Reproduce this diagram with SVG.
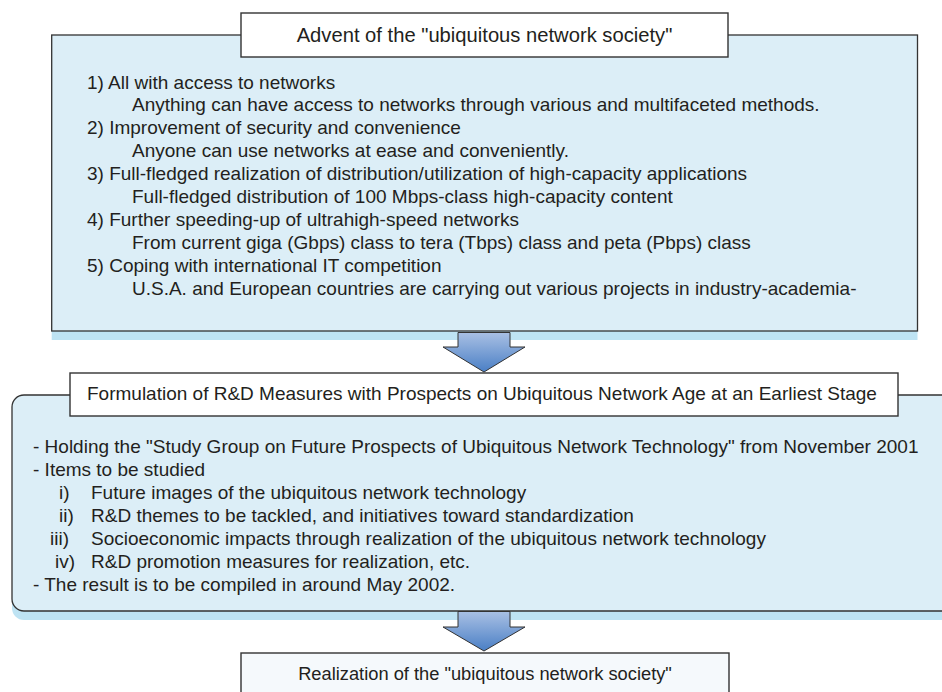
<svg xmlns="http://www.w3.org/2000/svg" width="942" height="692" viewBox="0 0 942 692">
<defs>
<linearGradient id="arrowGrad" x1="0" y1="0" x2="0" y2="1">
<stop offset="0" stop-color="#A9C0E4"/>
<stop offset="1" stop-color="#4A7FC5"/>
</linearGradient>
<style>
.panel{fill:#DCEEF7;stroke:#333;stroke-width:1.3}
.shadow{fill:#BEE3F3}
.title{fill:#fff;stroke:#333;stroke-width:1.4}
.final{fill:#F5F9FC;stroke:#333;stroke-width:1.4}
.arrow{fill:url(#arrowGrad);stroke:#333;stroke-width:1}
text{font-family:"Liberation Sans",Arial,sans-serif;font-size:19px;fill:#231F20}
.c{text-anchor:middle}
</style>
</defs>
<rect width="942" height="692" fill="#fff"/>

<g id="advent">
<rect class="shadow" x="51.7" y="44" width="865.8" height="296"/>
<rect class="panel" x="51.7" y="35" width="865.8" height="296"/>
<rect class="title" x="241" y="13" width="487" height="44"/>
<text class="c" x="484.5" y="41.7" style="font-size:20.2px">Advent of the "ubiquitous network society"</text>
<text x="87" y="88.5">1) All with access to networks</text>
<text x="132" y="111.4">Anything can have access to networks through various and multifaceted methods.</text>
<text x="87" y="134.3">2) Improvement of security and convenience</text>
<text x="132" y="157.2">Anyone can use networks at ease and conveniently.</text>
<text x="87" y="180.1">3) Full-fledged realization of distribution/utilization of high-capacity applications</text>
<text x="132" y="203">Full-fledged distribution of 100 Mbps-class high-capacity content</text>
<text x="87" y="225.9">4) Further speeding-up of ultrahigh-speed networks</text>
<text x="132" y="248.8">From current giga (Gbps) class to tera (Tbps) class and peta (Pbps) class</text>
<text x="87" y="271.7">5) Coping with international IT competition</text>
<text x="132" y="294.6">U.S.A. and European countries are carrying out various projects in industry-academia-</text>
</g>

<g id="formulation">
<rect class="shadow" x="12" y="404" width="960" height="216" rx="12" ry="12"/>
<rect class="panel" x="12" y="395" width="960" height="216" rx="12" ry="12"/>
<rect class="title" x="70" y="373" width="828" height="43"/>
<text x="87" y="400">Formulation of R&amp;D Measures with Prospects on Ubiquitous Network Age at an Earliest Stage</text>
<text x="33" y="453.3">- Holding the "Study Group on Future Prospects of Ubiquitous Network Technology" from November 2001</text>
<text x="33" y="476.2">- Items to be studied</text>
<text x="59" y="499.1">i)</text>
<text x="91" y="499.1">Future images of the ubiquitous network technology</text>
<text x="59" y="522">ii)</text>
<text x="91" y="522">R&amp;D themes to be tackled, and initiatives toward standardization</text>
<text x="50" y="544.9">iii)</text>
<text x="91" y="544.9">Socioeconomic impacts through realization of the ubiquitous network technology</text>
<text x="55" y="567.8">iv)</text>
<text x="91" y="567.8">R&amp;D promotion measures for realization, etc.</text>
<text x="33" y="590.7">- The result is to be compiled in around May 2002.</text>
</g>

<g id="realization">
<rect class="final" x="241" y="653" width="488" height="60"/>
<text class="c" x="485" y="680" style="font-size:18.3px">Realization of the "ubiquitous network society"</text>
</g>

<g id="connectors">
<path class="arrow" d="M458 332.5 H510 V347 H525 L484 372 L443 347 H458 Z"/>
<path class="arrow" d="M458 611.5 H510 V627 H525 L484 651 L443 627 H458 Z"/>
</g>
</svg>
